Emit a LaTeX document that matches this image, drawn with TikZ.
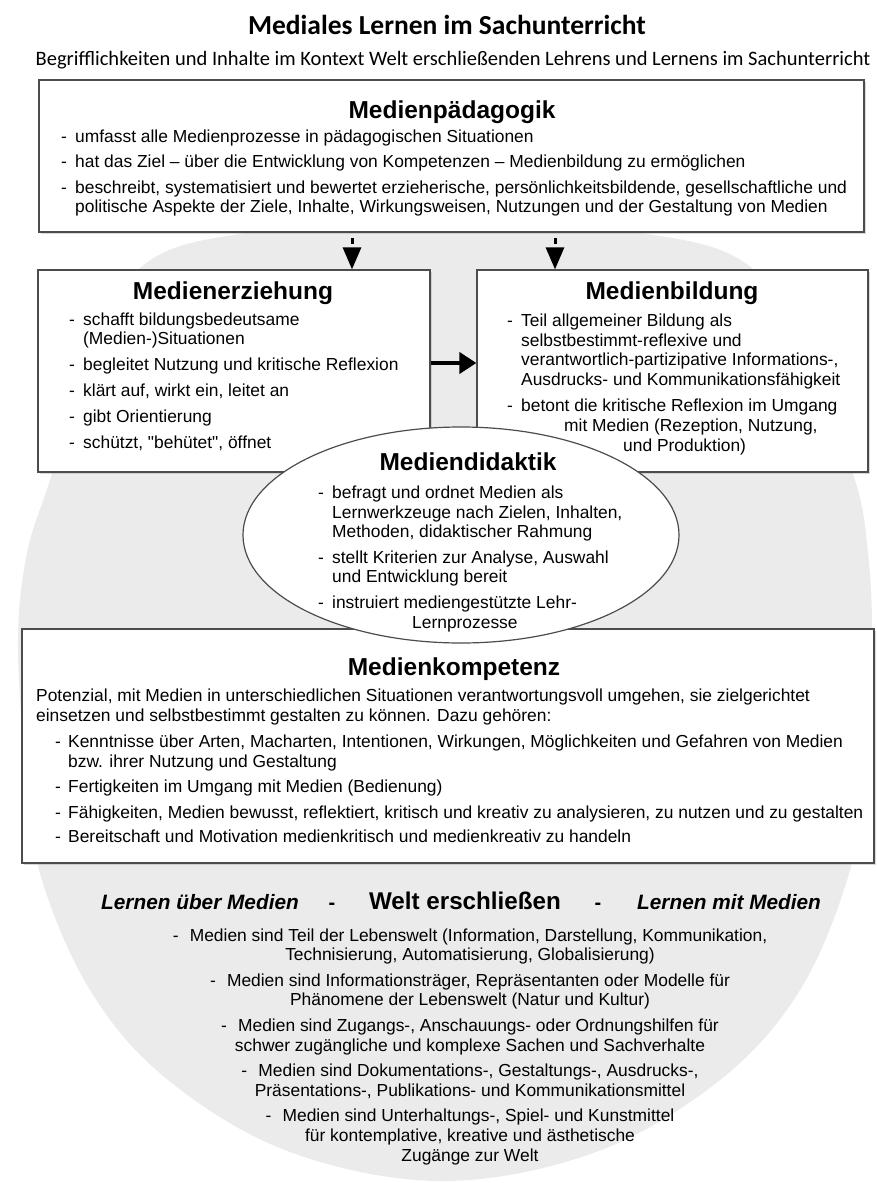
\documentclass[tikz,border=0pt]{standalone}
\usepackage{fontspec}
\setmainfont{Liberation Sans}
\newfontfamily\titelfont{Carlito}
\usetikzlibrary{arrows.meta}
\usetikzlibrary{positioning}
\usetikzlibrary{shapes.geometric}
\usetikzlibrary{shadows}

\newcommand{\strich}[1][14pt]{\makebox[#1][l]{-}}
\newcommand{\weiter}{\hspace*{14pt}}

\tikzset{
  rand/.style={draw=black!70, line width=1.2pt, fill=white, inner sep=0pt},
  kasten/.style={rand, drop shadow={shadow xshift=1.5pt, shadow yshift=-2pt, fill=black!30}},
  kopf/.style={font=\fontsize{24.5}{28}\selectfont\bfseries, inner sep=0pt, anchor=base},
  inhalt/.style={font=\fontsize{17.4}{19.8}\selectfont, inner sep=0pt, align=left, anchor=base west},
  pfeilab/.style={-{Triangle[width=18pt,length=22pt]}, line width=3pt, dash pattern=on 6pt off 30pt},
  pfeilquer/.style={-{Triangle[width=21pt,length=17pt]}, line width=4pt},
}

\begin{document}
\begin{tikzpicture}[x=1pt,y=-1pt]
\useasboundingbox (0,0) rectangle (877,1183);

% grauer Hintergrund
\fill[black!8] plot[smooth cycle, tension=0.6] coordinates {
  (443,222) (640,233) (752,268) (812,370) (855,480) (868,553) (872,640) (866,760)
  (850,870) (800,990) (720,1080) (596,1152) (443,1181) (290,1152) (168,1080)
  (90,990) (39,870) (25,760) (18,640) (27,553) (50,480) (85,370) (140,268) (246,233)};

% Titel
\node[font=\titelfont\fontsize{27.5}{32}\selectfont\bfseries, anchor=base, inner sep=0pt] (titel) at (447,34) {Mediales Lernen im Sachunterricht};
\node[font=\titelfont\fontsize{20.5}{24}\selectfont, anchor=base, inner sep=0pt] (untertitel) at (453,65) {Begrifflichkeiten und Inhalte im Kontext Welt erschließenden Lehrens und Lernens im Sachunterricht};

% Medienpaedagogik
\node[kasten, minimum width=825pt, minimum height=152pt] (paed) at (451.5,156) {};
\node[kopf] (paedkopf) at (452,118) {Medienpädagogik};
\node[inhalt] (paedtext) at (61,212.9) {%
\strich umfasst alle Medienprozesse in pädagogischen Situationen\\[5.5pt]
\strich hat das Ziel – über die Entwicklung von Kompetenzen – Medienbildung zu ermöglichen\\[5.5pt]
\strich beschreibt, systematisiert und bewertet erzieherische, persönlichkeitsbildende, gesellschaftliche und\\
\weiter politische Aspekte der Ziele, Inhalte, Wirkungsweisen, Nutzungen und der Gestaltung von Medien};

% Medienerziehung
\node[kasten, minimum width=392pt, minimum height=202pt] (erz) at (234,371) {};
\node[kopf] (erzkopf) at (233,299) {Medienerziehung};
\node[inhalt] (erztext) at (69,448) {%
\strich schafft bildungsbedeutsame\\
\weiter (Medien-)Situationen\\[6pt]
\strich begleitet Nutzung und kritische Reflexion\\[6pt]
\strich klärt auf, wirkt ein, leitet an\\[6pt]
\strich gibt Orientierung\\[6pt]
\strich schützt, \textquotedbl behütet\textquotedbl, öffnet};

% Medienbildung
\node[kasten, minimum width=391pt, minimum height=202pt] (bild) at (672.5,371) {};
\node[kopf] (bildkopf) at (672,299) {Medienbildung};
\node[inhalt] (bildtext) at (507,451) {%
\strich Teil allgemeiner Bildung als\\
\weiter selbstbestimmt-reflexive und\\
\weiter verantwortlich-partizipative Informations-,\\
\weiter Ausdrucks- und Kommunikationsfähigkeit\\[6pt]
\strich betont die kritische Reflexion im Umgang\\
\hspace*{57pt}mit Medien (Rezeption, Nutzung,\\
\hspace*{116pt}und Produktion)};

% Pfeile
\coordinate (p1) at (352,238);
\coordinate (p2) at (555,238);
\draw[pfeilab] (p1) -- (p1 |- erz.north);
\draw[pfeilab] (p2) -- (p2 |- bild.north);
\draw[pfeilquer] ([yshift=8pt]erz.east) -- ([yshift=8pt]bild.west);

% Medienkompetenz
\node[kasten, minimum width=852pt, minimum height=234pt] (komp) at (448,746) {};
\node[kopf] (kompkopf) at (454,675) {Medienkompetenz};
\node[inhalt] (komptext) at (36,721.5) {%
Potenzial, mit Medien in unterschiedlichen Situationen verantwortungsvoll umgehen, sie zielgerichtet\\
einsetzen und selbstbestimmt gestalten zu können. Dazu gehören:};
\node[inhalt] (komppunkte) at (55,842) {%
\strich[13pt]Kenntnisse über Arten, Macharten, Intentionen, Wirkungen, Möglichkeiten und Gefahren von Medien\\
\hspace*{13pt}bzw. ihrer Nutzung und Gestaltung\\[5.5pt]
\strich[13pt]Fertigkeiten im Umgang mit Medien (Bedienung)\\[5.5pt]
\strich[13pt]Fähigkeiten, Medien bewusst, reflektiert, kritisch und kreativ zu analysieren, zu nutzen und zu gestalten\\[4pt]
\strich[13pt]Bereitschaft und Motivation medienkritisch und medienkreativ zu handeln};

% Mediendidaktik
\node[rand, ellipse, minimum width=436pt, minimum height=216pt] (didaktik) at (461,535) {};
\node[kopf] (didaktikkopf) at (468,470) {Mediendidaktik};
\node[inhalt] (didaktiktext) at (318,628) {%
\strich befragt und ordnet Medien als\\
\weiter Lernwerkzeuge nach Zielen, Inhalten,\\
\weiter Methoden, didaktischer Rahmung\\[5.5pt]
\strich stellt Kriterien zur Analyse, Auswahl\\
\weiter und Entwicklung bereit\\[5.5pt]
\strich instruiert mediengestützte Lehr-\\
\hspace*{94pt}Lernprozesse};

% Welt erschliessen
\node[font=\fontsize{20.8}{24}\selectfont\bfseries\itshape, anchor=base west, inner sep=0pt] (ueber) at (101,909) {Lernen über Medien};
\node[font=\fontsize{20}{24}\selectfont\bfseries, anchor=base, inner sep=0pt] (strich1) at (332,909) {-};
\node[font=\fontsize{24.2}{28}\selectfont\bfseries, anchor=base, inner sep=0pt] (welt) at (465,909) {Welt erschließen};
\node[font=\fontsize{20}{24}\selectfont\bfseries, anchor=base, inner sep=0pt] (strich2) at (598,909) {-};
\node[font=\fontsize{20.8}{24}\selectfont\bfseries\itshape, anchor=base west, inner sep=0pt] (mit) at (637,909) {Lernen mit Medien};
\node[font=\fontsize{17.4}{19.8}\selectfont, align=center, anchor=base, inner sep=0pt] (welttext) at (470,1161) {%
\strich[17pt]Medien sind Teil der Lebenswelt (Information, Darstellung, Kommunikation,\\
Technisierung, Automatisierung, Globalisierung)\\[5.5pt]
\strich[17pt]Medien sind Informationsträger, Repräsentanten oder Modelle für\\
Phänomene der Lebenswelt (Natur und Kultur)\\[5.5pt]
\strich[17pt]Medien sind Zugangs-, Anschauungs- oder Ordnungshilfen für\\
schwer zugängliche und komplexe Sachen und Sachverhalte\\[5.5pt]
\strich[17pt]Medien sind Dokumentations-, Gestaltungs-, Ausdrucks-,\\
Präsentations-, Publikations- und Kommunikationsmittel\\[5.5pt]
\strich[17pt]Medien sind Unterhaltungs-, Spiel- und Kunstmittel\\
für kontemplative, kreative und ästhetische\\
Zugänge zur Welt};
\end{tikzpicture}
\end{document}
